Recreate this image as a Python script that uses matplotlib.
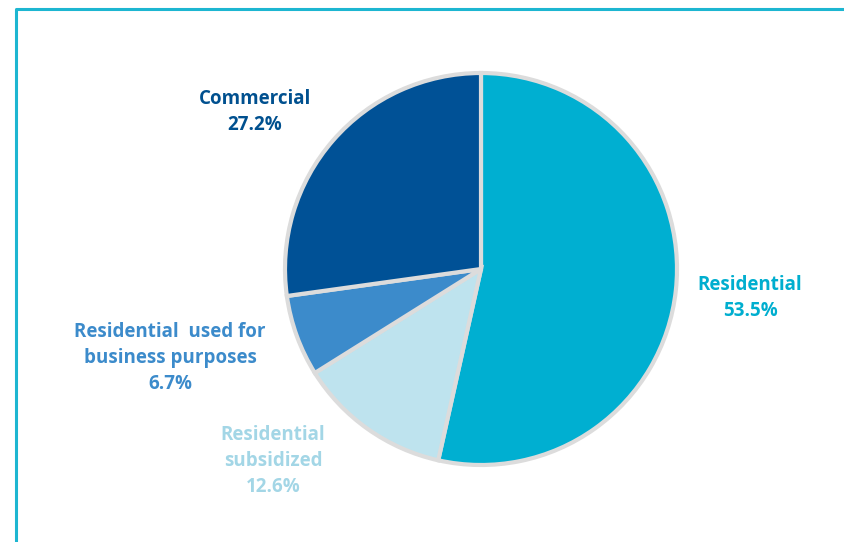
import matplotlib.pyplot as plt

labels = ["Residential", "Residential\nsubsidized", "Residential  used for\nbusiness purposes", "Commercial"]
values = [53.5, 12.6, 6.7, 27.2]
colors = ["#00AFD1", "#BEE3EE", "#3C8BCB", "#005196"]
text_colors = ["#00AECF", "#A3D6E6", "#3C8BCB", "#00508F"]
# label anchor positions (pixels)
label_pos = [(750, 298), (273, 461), (170, 358), (255, 112)]

fig = plt.figure(figsize=(8.44, 5.42), dpi=100)
ax = fig.add_axes([0, 0, 1, 1])

# frame lines
ax.plot([16, 16, 844], [542, 9, 9], color="#1DB6D1", lw=2.2, solid_capstyle="butt")

# y axis is inverted below, so counterclockwise in data = clockwise on screen
ax.pie(values, colors=colors, startangle=-90, counterclock=True,
       center=(481, 269), radius=196,
       wedgeprops=dict(edgecolor="#DCDCDC", linewidth=3))

for lab, v, c, (x, y) in zip(labels, values, text_colors, label_pos):
    ax.text(x, y, f"{lab}\n{v}%", color=c, ha="center", va="center",
            fontsize=13.5, fontweight="bold", family="Open Sans", linespacing=1.4)

ax.set_xlim(0, 844)
ax.set_ylim(542, 0)
ax.set_aspect("equal")
ax.axis("off")

fig.savefig("out.png", dpi=100)
